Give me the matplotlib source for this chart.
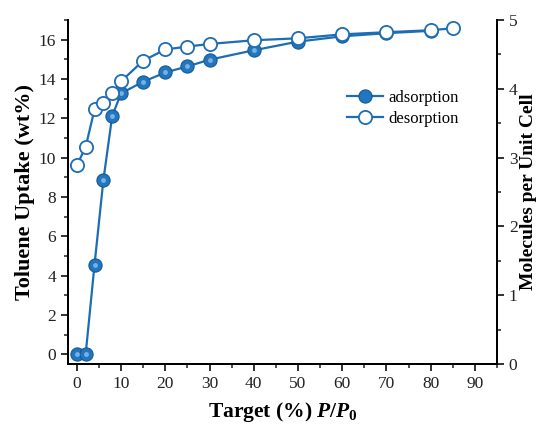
import matplotlib.pyplot as plt
from matplotlib.ticker import MultipleLocator

plt.rcParams["font.family"] = ["Liberation Serif", "DejaVu Serif"]
plt.rcParams["mathtext.fontset"] = "custom"
plt.rcParams["mathtext.it"] = "Liberation Serif:italic:bold"
plt.rcParams["mathtext.rm"] = "Liberation Serif:bold"

# data
ads_x = [0, 2, 4, 6, 8, 10, 15, 20, 25, 30, 40, 50, 60, 70, 80]
ads_y = [0.0, 0.0, 4.55, 8.85, 12.12, 13.27, 13.86, 14.33, 14.64, 14.98, 15.46, 15.9, 16.17, 16.33, 16.45]
des_x = [0, 2, 4, 6, 8, 10, 15, 20, 25, 30, 40, 50, 60, 70, 80, 85]
des_y = [9.6, 10.55, 12.45, 12.8, 13.27, 13.88, 14.93, 15.5, 15.65, 15.78, 15.97, 16.07, 16.27, 16.38, 16.48, 16.58]

blue = "#1c6db3"

fig = plt.figure(figsize=(5.37, 4.24), dpi=100)
ax = fig.add_axes([0.1266, 0.1415, 0.7989, 0.8113])

ax.plot(ads_x, ads_y, "-o", color=blue, lw=1.6, ms=9.5, mfc="#2176bf", mec="#155a96",
        mew=0.8, label="adsorption", zorder=3)
# small highlight to mimic the shaded spheres
ax.plot(ads_x, ads_y, "o", color="none", ms=3.5, mfc="#8fc0ea", mec="none", alpha=0.8, zorder=3.1)
ax.plot(des_x, des_y, "-o", color=blue, lw=1.6, ms=9.5, mfc="white", mec=blue,
        mew=1.3, label="desorption", zorder=3.5)

ax.set_xlim(-2, 95)
ax.set_ylim(-0.5, 17)
ax.xaxis.set_major_locator(MultipleLocator(10))
ax.xaxis.set_minor_locator(MultipleLocator(5))
ax.yaxis.set_major_locator(MultipleLocator(2))
ax.yaxis.set_minor_locator(MultipleLocator(1))

ax2 = ax.twinx()
ax2.set_ylim(0, 5)
ax2.yaxis.set_major_locator(MultipleLocator(1))
ax2.yaxis.set_minor_locator(MultipleLocator(0.5))

for a in (ax, ax2):
    a.spines["top"].set_visible(False)
    for s in a.spines.values():
        s.set_linewidth(1.4)
    a.tick_params(which="major", direction="out", length=5, width=1.3, labelsize=12.5, colors="#222222")
    a.tick_params(which="minor", direction="out", length=3, width=1.1, colors="#222222")

ax.set_xlabel("Target (%) $P/P_0$", fontsize=15.5, fontweight="bold", labelpad=6)
ax.set_ylabel("Toluene Uptake (wt%)", fontsize=16, fontweight="bold", labelpad=3)
ax2.set_ylabel("Molecules per Unit Cell", fontsize=14, fontweight="bold", labelpad=2)

h, l = ax.get_legend_handles_labels()
ax.legend(h, l, loc="upper left", bbox_to_anchor=(0.615, 0.84), frameon=False,
          fontsize=12, handlelength=2.2, handletextpad=0.3, labelspacing=0.3)

fig.savefig("out.png", dpi=100)
